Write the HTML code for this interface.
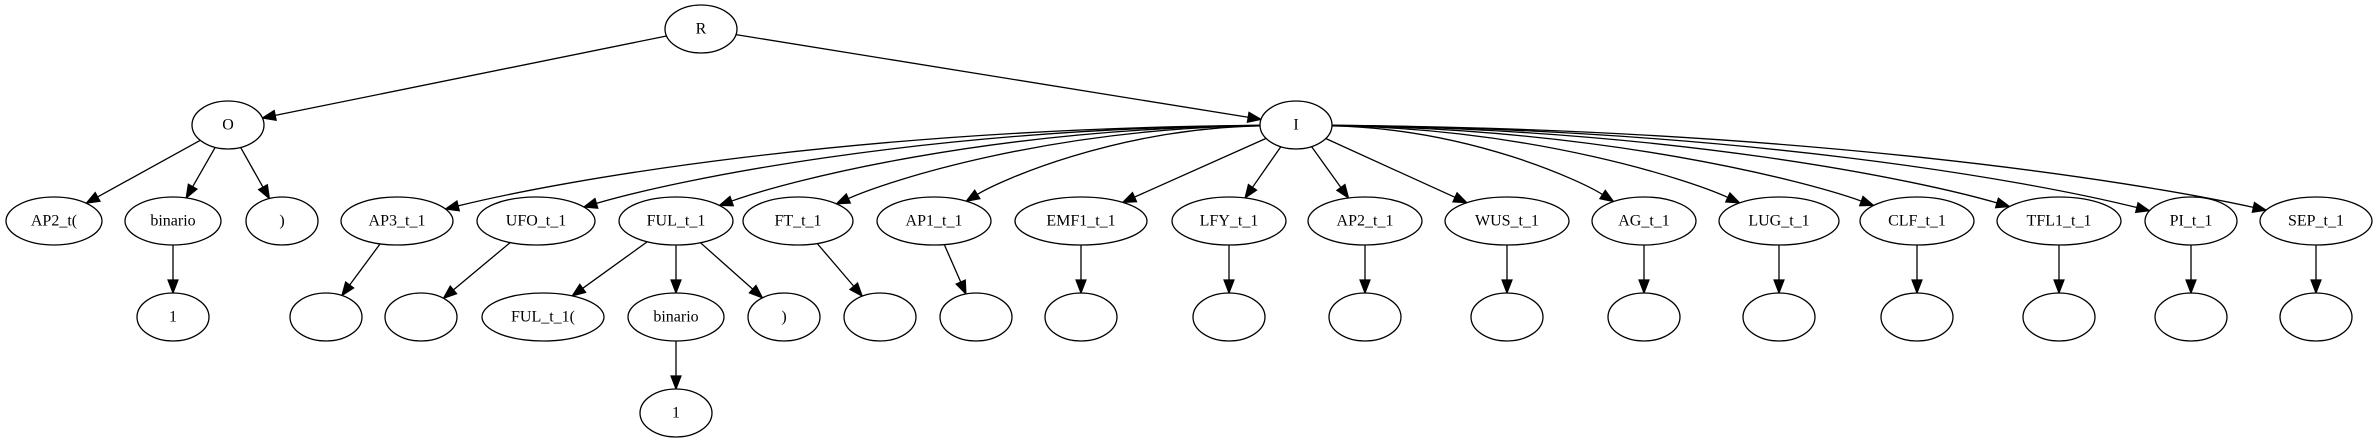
<!DOCTYPE html>
<html><head><meta charset="utf-8"><style>
html,body{margin:0;padding:0;background:#fff;width:2377px;height:443px;overflow:hidden}
svg text{font-family:"Liberation Serif",serif;font-size:16px;text-anchor:middle;dominant-baseline:central}
</style></head><body>
<svg id="g" width="2377" height="443" xmlns="http://www.w3.org/2000/svg"></svg>
<script>
const svg=document.getElementById('g');const NS='http://www.w3.org/2000/svg';
function el(t,a,txt){const e=document.createElementNS(NS,t);for(const k in a)e.setAttribute(k,a[k]);if(txt!==undefined)e.textContent=txt;svg.appendChild(e);return e;}
const Y1=29,Y2=125,Y3=221,Y4=317,Y5=413,RY=24;
const N={};const L={};
function add(id,x,y,rx,label){N[id]={x,y,rx,ry:RY};L[id]=label;}
add('R',701,Y1,36,'R');add('O',228,Y2,36,'O');add('I',1296,Y2,36,'I');
add('ap2',54,Y3,48,'AP2_t(');add('bin',173,Y3,48,'binario');add('rp',282,Y3,36,')');
add('one',173,Y4,36,'1');
const row=[['AP3_t_1',397,56],['UFO_t_1',536,59],['FUL_t_1',676,57],['FT_t_1',798,55],['AP1_t_1',934,57],['EMF1_t_1',1081,66],['LFY_t_1',1229,57],['AP2_t_1',1365,57],['WUS_t_1',1507,62],['AG_t_1',1644,52],['LUG_t_1',1779,60],['CLF_t_1',1917,57],['TFL1_t_1',2059,62],['PI_t_1',2191,46],['SEP_t_1',2316,56]];
const kids={AP3_t_1:326,UFO_t_1:421,FT_t_1:880,AP1_t_1:976};
row.forEach(r=>{add(r[0],r[1],Y3,r[2],r[0]);if(r[0]!=='FUL_t_1'){const cx=kids[r[0]]!==undefined?kids[r[0]]:r[1];add('c_'+r[0],cx,Y4,36,'');}});
add('fulp',543,Y4,61,'FUL_t_1(');add('bin2',676,Y4,48,'binario');add('rp2',784,Y4,36,')');add('one2',676,Y5,36,'1');
function bd(n,dx,dy){const l=Math.hypot(dx/n.rx,dy/n.ry);return [n.x+dx/l,n.y+dy/l];}
function arrow(tip,dir){const [ux,uy]=dir,len=13,w=5;const bx=tip[0]-ux*len,by=tip[1]-uy*len;
el('polygon',{points:`${tip[0]},${tip[1]} ${bx-uy*w},${by+ux*w} ${bx+uy*w},${by-ux*w}`,fill:'#000',stroke:'#000','stroke-width':1.2});return [bx,by];}
function straight(a,b){const A=N[a],B=N[b];const s=bd(A,B.x-A.x,B.y-A.y);const e=bd(B,A.x-B.x,A.y-B.y);
const dx=e[0]-s[0],dy=e[1]-s[1],l=Math.hypot(dx,dy);const base=arrow(e,[dx/l,dy/l]);
el('line',{x1:s[0],y1:s[1],x2:base[0],y2:base[1],stroke:'#000','stroke-width':1.3});}
function curve(a,b){const A=N[a],B=N[b];const dx=B.x-A.x;
const c1=[A.x+dx*0.5,A.y+4];const c2=[B.x-dx*0.18,B.y-40];
const s=bd(A,c1[0]-A.x,c1[1]-A.y);const e=bd(B,c2[0]-B.x,c2[1]-B.y);
const ddx=e[0]-c2[0],ddy=e[1]-c2[1],l=Math.hypot(ddx,ddy);const base=arrow(e,[ddx/l,ddy/l]);
el('path',{d:`M${s[0]},${s[1]} C${c1[0]},${c1[1]} ${c2[0]},${c2[1]} ${base[0]},${base[1]}`,fill:'none',stroke:'#000','stroke-width':1.3});}
straight('R','O');straight('R','I');
['ap2','bin','rp'].forEach(k=>straight('O',k));straight('bin','one');
row.forEach(r=>{const dx=Math.abs(r[1]-1296);if(dx<300)straight('I',r[0]);else curve('I',r[0]);if(r[0]!=='FUL_t_1')straight(r[0],'c_'+r[0]);});
['fulp','bin2','rp2'].forEach(k=>straight('FUL_t_1',k));straight('bin2','one2');
for(const id in N){const n=N[id];el('ellipse',{cx:n.x,cy:n.y,rx:n.rx,ry:n.ry,fill:'#fff',stroke:'#000','stroke-width':1.3});
if(L[id])el('text',{x:n.x,y:n.y},L[id]);}
</script>
</body></html>
